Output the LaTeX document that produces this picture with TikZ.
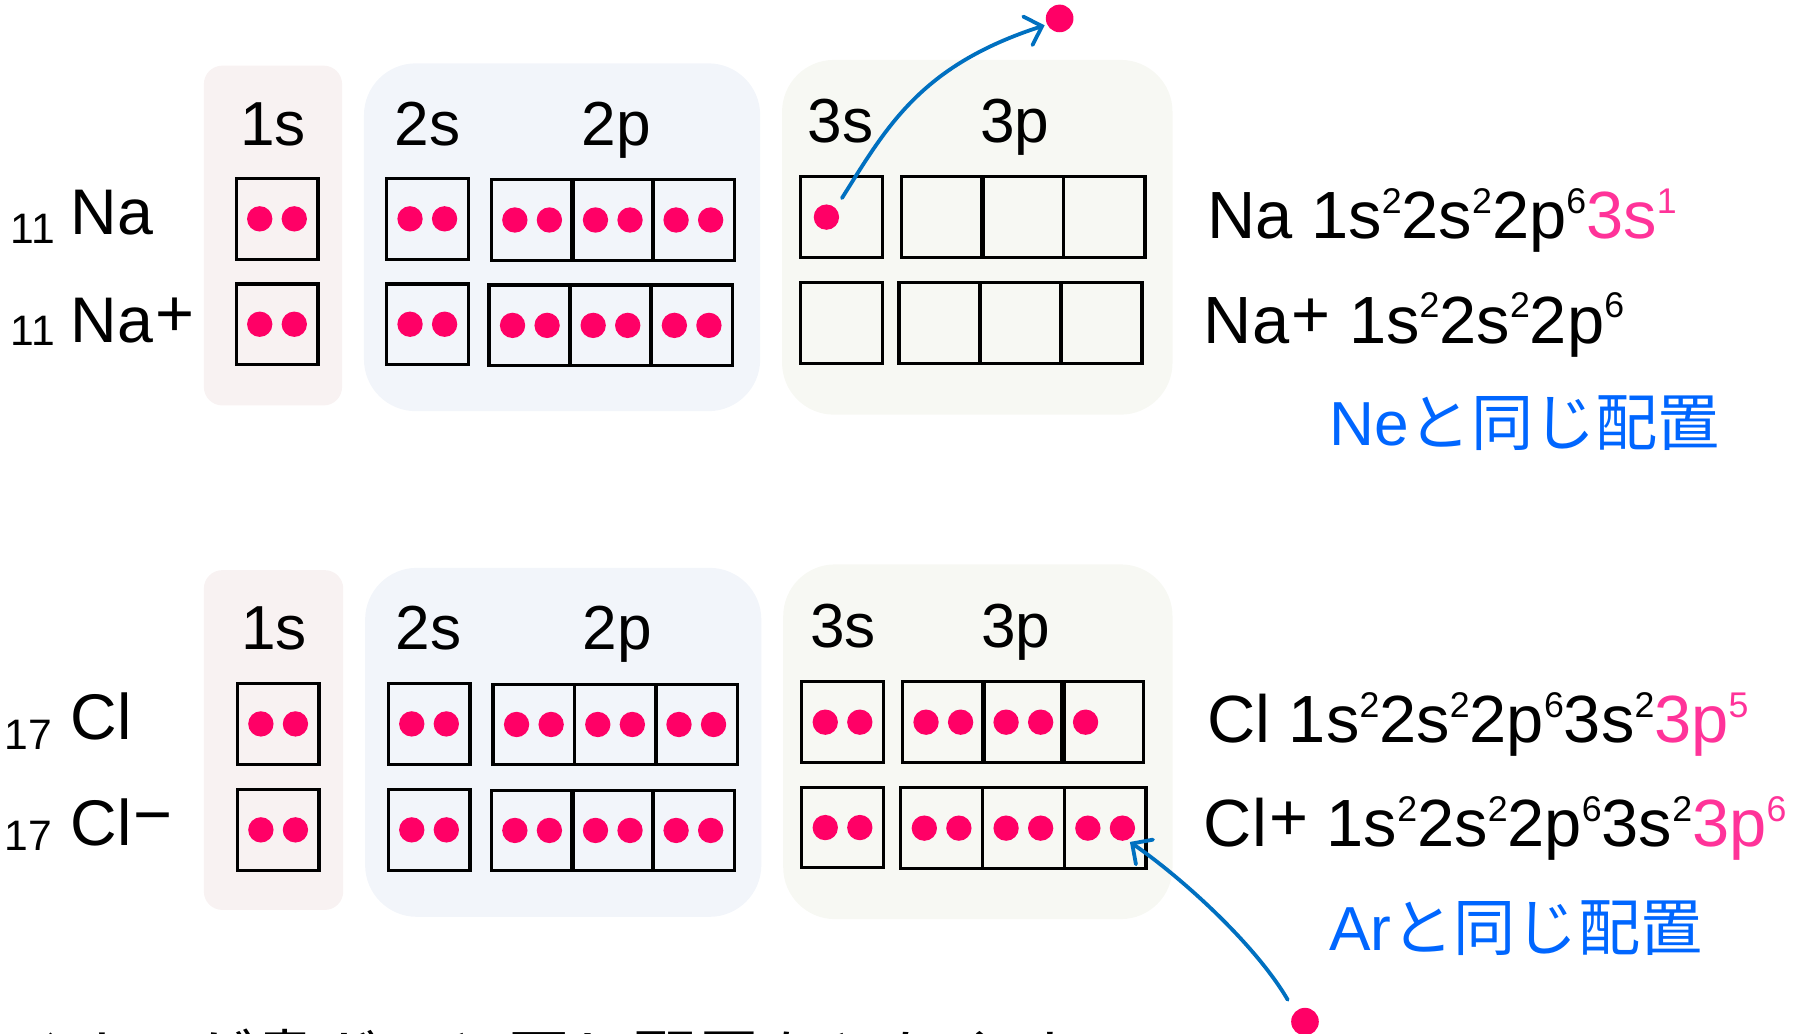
\documentclass[tikz,border=0pt]{standalone}
\usepackage{fontspec}
\setmainfont{Liberation Sans}
\newfontfamily\jp{Noto Sans CJK JP}
\usetikzlibrary{arrows.meta}
\definecolor{dotc}{HTML}{FF0066}
\definecolor{pinkt}{HTML}{FF3399}
\definecolor{arrc}{HTML}{0070C0}
\definecolor{bluet}{HTML}{0066FF}
\definecolor{pone}{HTML}{F8F2F2}
\definecolor{ptwo}{HTML}{F2F5FA}
\definecolor{pthree}{HTML}{F7F8F3}
\newcommand\sps[1]{\raisebox{22pt}{\fontsize{31}{31}\selectfont #1}}
\newcommand\plussup{\kern2pt\raisebox{5pt}{\fontsize{58}{58}\selectfont +}}
\newcommand\minussup{\kern2pt\raisebox{7pt}{\fontsize{58}{58}\selectfont −}}
\tikzset{
  orb/.style={draw=black, line width=2.8pt, minimum width=71pt, minimum height=70pt, inner sep=0pt},
  edot/.style={circle, fill=dotc, minimum size=22pt, inner sep=0pt},
  lbl/.style={anchor=base, font=\fontsize{54}{56}\selectfont, inner sep=0pt},
  big/.style={anchor=base west, font=\fontsize{56}{58}\selectfont, inner sep=0pt},
  zsub/.style={anchor=base west, font=\fontsize{37}{38}\selectfont, inner sep=0pt},
  form/.style={anchor=base west, font=\fontsize{58}{60}\selectfont, inner sep=0pt},
  same/.style={anchor=base west, font=\fontsize{54}{56}\selectfont, text=bluet, inner sep=0pt},
  arr/.style={draw=arrc, line width=3.3pt, line cap=round, -{Straight Barb[length=13pt,width=26pt,line cap=round]}}
}
\begin{document}
\begin{tikzpicture}[x=1pt,y=-1pt]
\useasboundingbox (0,0) rectangle (1568,897);
\clip (0,0) rectangle (1568,897);

% panels
\fill[pone, rounded corners=16pt] (177,57) rectangle (297,352);
\fill[ptwo, rounded corners=45pt] (316,55) rectangle (660,357);
\fill[pthree, rounded corners=45pt] (679,52) rectangle (1018,360);
\fill[pone, rounded corners=16pt] (177,495) rectangle (298,790);
\fill[ptwo, rounded corners=45pt] (317,493) rectangle (661,796);
\fill[pthree, rounded corners=45pt] (680,490) rectangle (1018,798);

% shell labels
\node[lbl] (t1s) at (237,126) {1s};
\node[lbl] (t2s) at (371,126) {2s};
\node[lbl] (t2p) at (535,126) {2p};
\node[lbl] (t3s) at (730,124) {3s};
\node[lbl] (t3p) at (881,124) {3p};
\node[lbl] (b1s) at (238,564) {1s};
\node[lbl] (b2s) at (372,564) {2s};
\node[lbl] (b2p) at (536,564) {2p};
\node[lbl] (b3s) at (732,562) {3s};
\node[lbl] (b3p) at (882,562) {3p};

% Na row
\node[orb] (A1s) at (240.5,190) {};
\node[orb] (A2s) at (371,190) {};
\node[orb] (A2pa) at (462,191) {};
\node[orb] (A2pb) at (532,191) {};
\node[orb] (A2pc) at (602,191) {};
\node[orb] (A3s) at (730.5,188.5) {};
\node[orb] (A3pa) at (818,188.5) {};
\node[orb] (A3pb) at (888,188.5) {};
\node[orb] (A3pc) at (958.5,188.5) {};
% Na+ row
\node[orb] (B1s) at (240.5,281.5) {};
\node[orb] (B2s) at (371,281.5) {};
\node[orb] (B2pa) at (460,282.5) {};
\node[orb] (B2pb) at (530,282.5) {};
\node[orb] (B2pc) at (600.5,282.5) {};
\node[orb] (B3s) at (730.5,280.5) {};
\node[orb] (B3pa) at (816,280.5) {};
\node[orb] (B3pb) at (886,280.5) {};
\node[orb] (B3pc) at (956,280.5) {};
% Cl row
\node[orb] (C1s) at (241.5,628.5) {};
\node[orb] (C2s) at (372.5,628.5) {};
\node[orb] (C2pa) at (463.5,629) {};
\node[orb] (C2pb) at (534,629) {};
\node[orb] (C2pc) at (604.5,629) {};
\node[orb] (C3s) at (731.5,627) {};
\node[orb] (C3pa) at (819,627) {};
\node[orb] (C3pb) at (888.5,627) {};
\node[orb] (C3pc) at (957.5,627) {};
% Cl- row
\node[orb] (D1s) at (241.5,720.5) {};
\node[orb] (D2s) at (372.5,720.5) {};
\node[orb] (D2pa) at (462,721) {};
\node[orb] (D2pb) at (532,721) {};
\node[orb] (D2pc) at (602,721) {};
\node[orb] (D3s) at (731.5,718.5) {};
\node[orb] (D3pa) at (817.5,719) {};
\node[orb] (D3pb) at (888.5,719) {};
\node[orb] (D3pc) at (959.5,719) {};

% electron pairs
\foreach \b in {A1s,A2s,A2pa,A2pb,A2pc,B1s,B2s,B2pa,B2pb,B2pc,
                C1s,C2s,C2pa,C2pb,C2pc,C3s,C3pa,C3pb,
                D1s,D2s,D2pa,D2pb,D2pc,D3s,D3pa,D3pb,D3pc}{
  \node[edot] (\b-l) at ([xshift=-15pt]\b.center) {};
  \node[edot] (\b-r) at ([xshift=15pt]\b.center) {};
}
% single electrons
\node[edot] (A3s-l) at ([xshift=-13pt]A3s.center) {};
\node[edot] (C3pc-l) at ([xshift=-15pt]C3pc.center) {};

% free electrons
\node[edot, minimum size=24pt] (eout) at (920,16) {};
\node[edot, minimum size=24pt] (ein) at (1133,887) {};

% arrows
\coordinate (s1) at (731,172);
\coordinate (e1) at (907,22);
\draw[arr] (s1) .. controls (770,110) and (799,57) .. (e1);
\coordinate (s2) at (1118,868);
\coordinate (e2) at (981,731);
\draw[arr] (s2) .. controls (1090,820) and (1026,762) .. (e2);

% element labels (left)
\node[zsub] (zNa) at (9,211) {11};
\node[big] (nNa) at (61,204) {Na};
\node[zsub] (zNap) at (9,300) {11};
\node[big] (nNap) at (61,297) {Na\plussup};
\node[zsub] (zCl) at (4,651) {17};
\node[big] (nCl) at (61,642) {Cl};
\node[zsub] (zClm) at (4,738) {17};
\node[big] (nClm) at (61,734) {Cl\minussup};

% configurations (right)
\node[form] (fNa) at (1048,207.5) {Na 1s\sps{2}2s\sps{2}2p\sps{6}\textcolor{pinkt}{3s\sps{1}}};
\node[form] (fNap) at (1045,298) {Na\plussup{} 1s\sps{2}2s\sps{2}2p\sps{6}};
\node[same] (sNe) at (1154,386.5) {Ne{\jp と同じ配置}};
\node[form] (fCl) at (1048,645) {Cl 1s\sps{2}2s\sps{2}2p\sps{6}3s\sps{2}\textcolor{pinkt}{3p\sps{5}}};
\node[form] (fClp) at (1045,735) {Cl\plussup{} 1s\sps{2}2s\sps{2}2p\sps{6}3s\sps{2}\textcolor{pinkt}{3p\sps{6}}};
\node[same] (sAr) at (1154,825) {Ar{\jp と同じ配置}};

% cut-off sentence at the bottom edge
\node[anchor=base west, inner sep=0pt, font=\jp\fontsize{55}{57}\selectfont] (note) at (0,940) {イオンが貴ガスと同じ配置をとりやすい};
\end{tikzpicture}
\end{document}
